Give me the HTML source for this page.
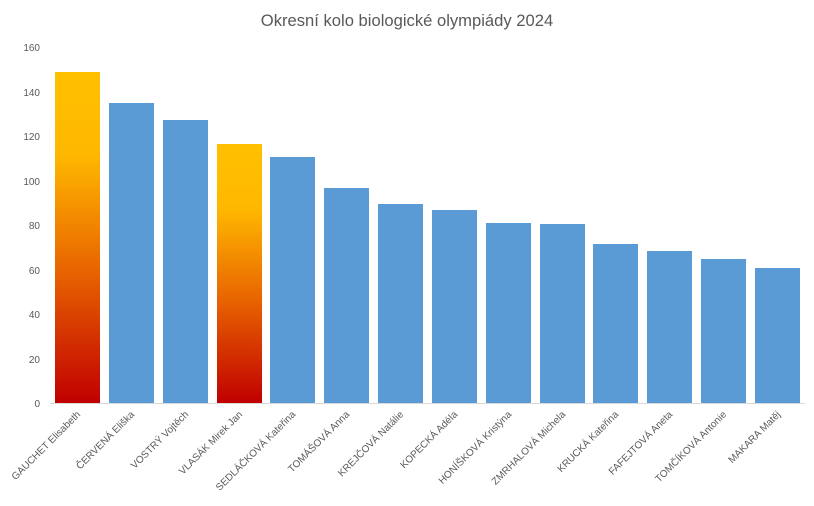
<!DOCTYPE html>
<html><head><meta charset="utf-8"><style>body{margin:0;background:#fff}svg{display:block}</style></head><body>
<svg width="814" height="506" xmlns="http://www.w3.org/2000/svg" font-family="Liberation Sans, sans-serif">
<defs><linearGradient id="g" x1="0" y1="0" x2="0" y2="1">
<stop offset="0" stop-color="#ffc000"/><stop offset="0.25" stop-color="#ffb800"/><stop offset="0.6" stop-color="#e86400"/><stop offset="1" stop-color="#c00000"/></linearGradient></defs>
<text x="407" y="26" text-anchor="middle" font-size="16.6" fill="#595959">Okresní kolo biologické olympiády 2024</text>
<g font-size="10" fill="#595959" text-anchor="end">
<text x="40" y="407">0</text><text x="40" y="363">20</text><text x="40" y="318">40</text><text x="40" y="274">60</text><text x="40" y="229">80</text><text x="40" y="185">100</text><text x="40" y="140">120</text><text x="40" y="96">140</text><text x="40" y="51">160</text>
</g>
<line x1="50" y1="403.5" x2="805" y2="403.5" stroke="#d9d9d9"/>
<g fill="#5b9bd5">
<rect x="55" y="72" width="45" height="331" fill="url(#g)"/>
<rect x="109" y="103" width="45" height="300"/>
<rect x="163" y="120" width="45" height="283"/>
<rect x="217" y="144" width="45" height="259" fill="url(#g)"/>
<rect x="270" y="157" width="45" height="246"/>
<rect x="324" y="188" width="45" height="215"/>
<rect x="378" y="204" width="45" height="199"/>
<rect x="432" y="210" width="45" height="193"/>
<rect x="486" y="223" width="45" height="180"/>
<rect x="540" y="224" width="45" height="179"/>
<rect x="593" y="244" width="45" height="159"/>
<rect x="647" y="251" width="45" height="152"/>
<rect x="701" y="259" width="45" height="144"/>
<rect x="755" y="268" width="45" height="135"/>
</g>
<g font-size="10" fill="#595959" text-anchor="end">
<text transform="translate(81,415) rotate(-45)">GAUCHET Elisabeth</text>
<text transform="translate(135,415) rotate(-45)">ČERVENÁ Eliška</text>
<text transform="translate(189,415) rotate(-45)">VOSTRÝ Vojtěch</text>
<text transform="translate(243,415) rotate(-45)">VLASÁK Mirek Jan</text>
<text transform="translate(296,415) rotate(-45)">SEDLÁČKOVÁ Kateřina</text>
<text transform="translate(350,415) rotate(-45)">TOMÁŠOVÁ Anna</text>
<text transform="translate(404,415) rotate(-45)">KREJČOVÁ Natálie</text>
<text transform="translate(458,415) rotate(-45)">KOPECKÁ Adéla</text>
<text transform="translate(512,415) rotate(-45)">HONÍŠKOVÁ Kristýna</text>
<text transform="translate(566,415) rotate(-45)">ZMRHALOVÁ Michela</text>
<text transform="translate(619,415) rotate(-45)">KRUCKÁ Kateřina</text>
<text transform="translate(673,415) rotate(-45)">FAFEJTOVÁ  Aneta</text>
<text transform="translate(727,415) rotate(-45)">TOMČÍKOVÁ Antonie</text>
<text transform="translate(781,415) rotate(-45)">MAKARA Matěj</text>
</g>
</svg>
</body></html>
